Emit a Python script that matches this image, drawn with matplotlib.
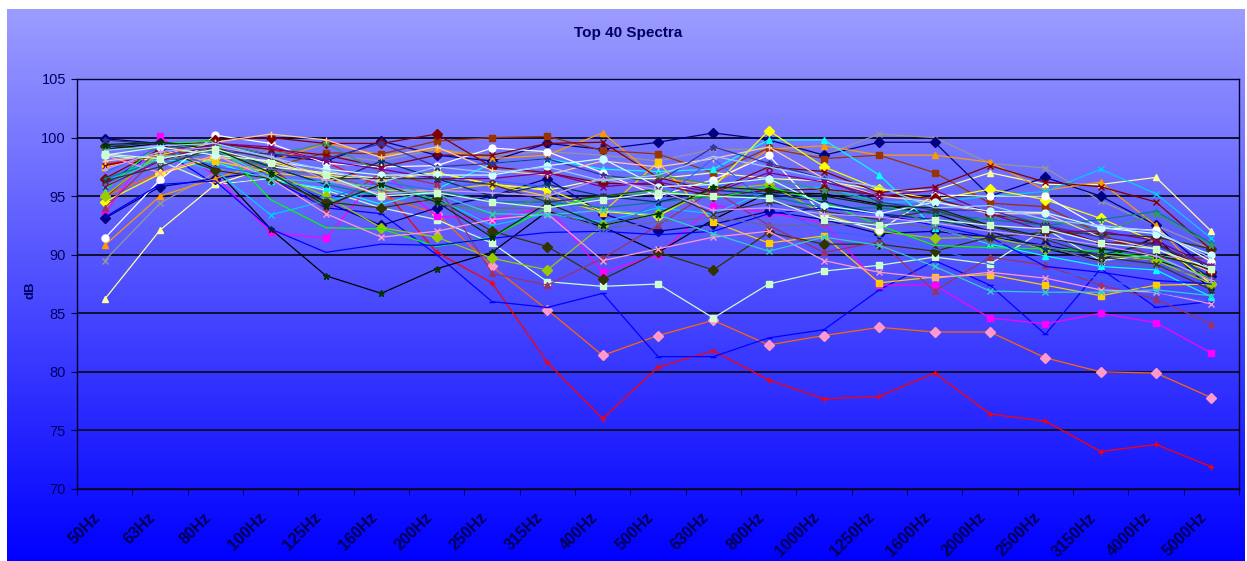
import numpy as np
import matplotlib
matplotlib.use("Agg")
import matplotlib.pyplot as plt
from matplotlib.colors import LinearSegmentedColormap

plt.rcParams['font.family'] = ['Liberation Sans', 'DejaVu Sans']

bands = ["50Hz", "63Hz", "80Hz", "100Hz", "125Hz", "160Hz", "200Hz", "250Hz",
         "315Hz", "400Hz", "500Hz", "630Hz", "800Hz", "1000Hz", "1250Hz",
         "1600Hz", "2000Hz", "2500Hz", "3150Hz", "4000Hz", "5000Hz"]

# spectra (dB per third-octave band)
s01 = [97.7, 98.5, 99.5, 99.0, 97.9, 95.8, 90.2, 87.6, 80.8, 76.0, 80.4, 81.8, 79.3, 77.7, 77.9, 79.9, 76.4, 75.8, 73.2, 73.8, 71.9]
s02 = [95.0, 97.0, 98.5, 98.0, 96.5, 95.0, 93.5, 89.0, 85.3, 81.4, 83.1, 84.4, 82.3, 83.1, 83.8, 83.4, 83.4, 81.2, 80.0, 79.9, 77.8]
s03 = [96.0, 99.0, 96.0, 96.5, 94.0, 93.5, 90.0, 86.0, 85.5, 86.7, 81.3, 81.3, 82.9, 83.6, 87.0, 89.5, 87.4, 83.2, 88.8, 85.5, 86.0]
s04 = [98.5, 98.0, 96.0, 96.5, 95.5, 94.0, 93.0, 91.0, 87.7, 87.3, 87.5, 84.6, 87.5, 88.6, 89.1, 89.8, 89.2, 92.2, 89.5, 90.0, 89.0]
s05 = [93.5, 100.1, 96.7, 91.9, 91.4, 97.1, 93.3, 93.0, 94.1, 88.5, 90.0, 94.2, 93.6, 92.7, 87.4, 87.4, 84.6, 84.1, 85.0, 84.2, 81.6]
s06 = [99.0, 99.5, 97.3, 92.2, 88.2, 86.7, 88.8, 90.2, 93.7, 92.4, 90.2, 93.0, 95.3, 95.2, 94.3, 93.5, 92.0, 90.5, 89.5, 91.5, 87.0]
s07 = [86.2, 92.1, 96.0, 97.5, 97.0, 96.5, 97.0, 96.0, 95.5, 96.5, 96.5, 97.0, 96.5, 96.3, 95.5, 95.5, 97.0, 96.0, 96.0, 96.6, 92.0]
s08 = [89.5, 94.4, 97.0, 99.0, 98.5, 98.0, 99.0, 98.5, 98.8, 98.5, 98.0, 99.0, 99.0, 98.5, 100.3, 100.0, 97.8, 97.4, 94.6, 92.5, 90.5]
s09 = [99.9, 99.5, 99.5, 98.5, 98.0, 99.7, 98.5, 98.0, 99.5, 99.0, 99.6, 100.4, 99.8, 98.5, 99.6, 99.6, 95.0, 96.6, 95.0, 92.5, 88.5]
s10 = [93.1, 95.8, 96.5, 97.2, 94.5, 92.5, 94.0, 95.0, 96.5, 93.5, 92.0, 92.6, 93.7, 93.0, 91.8, 92.0, 91.5, 90.8, 90.0, 89.5, 88.2]
s11 = [90.8, 95.0, 96.5, 98.0, 99.5, 98.5, 99.0, 98.2, 98.5, 100.4, 96.5, 96.0, 99.0, 99.3, 98.5, 98.5, 97.9, 95.5, 96.2, 92.5, 87.5]
s12 = [94.8, 99.0, 99.1, 97.5, 98.7, 98.6, 99.7, 100.0, 100.1, 98.9, 98.6, 97.0, 99.1, 98.2, 98.5, 97.0, 94.4, 94.1, 91.8, 89.7, 89.7]
s13 = [95.8, 98.1, 97.9, 96.3, 95.7, 94.3, 95.6, 97.8, 98.2, 97.3, 97.1, 97.3, 99.8, 99.8, 96.8, 92.3, 90.9, 89.9, 89.0, 88.7, 86.4]
s14 = [96.2, 98.4, 97.2, 93.4, 94.6, 95.5, 94.8, 92.5, 93.5, 92.8, 94.0, 93.5, 95.5, 95.8, 94.5, 94.5, 95.0, 95.4, 97.3, 95.2, 91.4]
s15 = [94.5, 96.9, 98.3, 98.0, 96.8, 96.3, 97.0, 96.0, 95.6, 93.7, 93.3, 95.8, 100.6, 97.5, 95.6, 94.7, 95.6, 94.7, 93.1, 91.1, 87.5]
s16 = [97.5, 98.5, 98.0, 97.0, 96.5, 95.5, 95.5, 96.0, 95.0, 93.6, 97.9, 92.8, 91.0, 91.6, 87.6, 88.1, 88.3, 87.4, 86.5, 87.4, 87.5]
s17 = [95.0, 98.7, 99.0, 97.0, 95.0, 92.3, 91.5, 89.7, 88.7, 92.5, 93.5, 95.5, 96.0, 93.5, 92.0, 91.4, 91.5, 90.5, 90.0, 89.5, 87.5]
s18 = [99.3, 99.0, 97.2, 96.5, 94.5, 94.0, 94.8, 92.0, 90.7, 87.9, 90.2, 88.7, 91.9, 90.9, 90.9, 90.3, 91.5, 91.9, 91.8, 91.5, 90.5]
s19 = [94.0, 98.5, 99.0, 97.5, 93.8, 97.0, 96.0, 88.4, 87.4, 89.7, 92.5, 95.5, 92.5, 90.2, 91.1, 86.9, 89.8, 89.1, 87.4, 86.2, 84.1]
s20 = [91.4, 96.4, 100.2, 99.5, 97.8, 97.5, 97.6, 99.1, 98.8, 97.0, 95.0, 96.4, 98.5, 93.3, 92.1, 95.1, 95.0, 95.0, 92.3, 92.1, 89.4]
s21 = [97.6, 98.5, 99.5, 99.0, 98.5, 97.5, 98.5, 98.5, 99.5, 99.6, 96.6, 95.4, 97.5, 97.1, 95.3, 95.8, 97.6, 96.2, 95.8, 94.5, 90.4]
s22 = [96.5, 99.0, 99.8, 100.0, 99.5, 99.5, 100.3, 97.5, 97.0, 96.1, 96.0, 95.0, 95.5, 95.6, 95.1, 94.8, 93.5, 92.5, 91.0, 91.0, 88.5]
s23 = [95.5, 99.5, 99.7, 94.7, 92.3, 92.2, 90.7, 91.5, 94.0, 95.0, 95.5, 94.8, 95.8, 94.5, 92.5, 90.8, 90.6, 90.5, 90.3, 89.7, 88.0]
s24 = [96.5, 98.0, 98.7, 97.5, 96.0, 95.0, 95.5, 94.5, 94.5, 94.0, 94.5, 95.0, 95.0, 94.0, 94.0, 93.5, 93.0, 92.5, 93.0, 93.7, 91.0]
s25 = [93.2, 96.0, 96.3, 92.2, 90.2, 90.9, 90.8, 91.4, 91.9, 92.0, 91.7, 92.0, 93.5, 94.0, 93.5, 92.5, 91.5, 89.0, 88.5, 87.8, 87.5]
s26 = [98.5, 97.0, 98.5, 96.5, 93.5, 91.5, 92.0, 93.0, 93.5, 89.5, 90.5, 91.5, 92.0, 89.5, 88.5, 88.0, 88.5, 88.0, 87.0, 86.8, 85.8]
s27 = [99.2, 99.6, 99.2, 97.5, 96.0, 98.0, 96.5, 95.0, 96.0, 95.0, 94.5, 95.5, 95.2, 94.5, 93.5, 93.0, 92.0, 90.5, 90.0, 91.0, 88.0]
s28 = [99.0, 99.0, 99.5, 98.5, 99.5, 97.0, 94.5, 93.5, 95.0, 96.5, 96.8, 96.0, 96.5, 95.5, 94.5, 92.5, 93.2, 93.0, 92.0, 93.5, 90.8]
s29 = [98.0, 98.5, 99.6, 100.3, 99.8, 98.3, 99.2, 97.2, 96.8, 98.0, 97.5, 98.2, 99.2, 96.5, 95.0, 94.5, 93.5, 93.5, 91.5, 90.5, 88.5]
s30 = [99.8, 99.4, 98.8, 98.6, 98.2, 99.5, 97.5, 97.8, 98.2, 96.8, 96.2, 99.2, 97.8, 96.5, 94.5, 93.8, 93.8, 92.5, 91.5, 90.8, 89.0]
s31 = [96.0, 98.0, 98.8, 97.3, 96.8, 95.5, 94.3, 94.0, 93.9, 92.2, 92.8, 93.2, 92.5, 92.5, 92.8, 92.3, 91.0, 90.8, 89.3, 89.0, 88.0]
s32 = [97.0, 99.2, 97.5, 96.8, 94.8, 96.2, 95.5, 96.3, 95.8, 91.8, 94.5, 98.2, 94.3, 92.0, 91.5, 90.5, 89.2, 88.5, 88.0, 86.8, 86.0]
s33 = [95.8, 98.3, 99.0, 96.5, 96.2, 95.8, 95.2, 93.5, 93.4, 93.8, 93.4, 91.8, 90.3, 91.5, 90.8, 89.0, 86.9, 86.8, 86.8, 87.0, 86.5]
s34 = [95.8, 98.0, 99.5, 99.2, 98.0, 97.3, 96.5, 96.5, 97.0, 95.8, 96.2, 95.3, 97.0, 96.2, 95.0, 95.5, 93.5, 92.0, 92.0, 91.2, 89.0]
s35 = [98.5, 99.2, 98.5, 98.0, 97.3, 96.8, 96.8, 96.8, 97.6, 98.2, 95.8, 96.0, 96.5, 94.2, 93.5, 94.5, 93.7, 93.6, 92.3, 91.8, 90.0]
s36 = [99.4, 99.6, 99.0, 97.0, 94.2, 96.0, 94.5, 91.5, 94.4, 92.5, 93.5, 95.8, 95.5, 95.0, 94.2, 94.0, 92.5, 91.5, 90.5, 90.0, 88.8]
s37 = [96.3, 97.5, 99.2, 98.2, 96.5, 96.5, 96.5, 96.0, 94.5, 95.0, 95.6, 93.5, 94.5, 93.7, 93.0, 93.8, 92.4, 91.3, 89.8, 89.2, 87.0]
s38 = [97.3, 98.8, 99.2, 98.4, 96.4, 95.2, 95.5, 95.3, 95.0, 96.5, 95.5, 93.8, 94.0, 93.5, 93.2, 92.7, 92.0, 91.5, 90.8, 89.9, 87.8]
s39 = [98.9, 99.3, 99.5, 98.3, 97.2, 96.2, 97.5, 97.0, 97.5, 96.3, 96.8, 98.4, 97.5, 96.5, 95.8, 94.0, 94.2, 93.0, 92.5, 92.0, 89.7]
s40 = [98.6, 98.2, 99.0, 97.8, 96.8, 95.0, 95.3, 94.5, 94.0, 94.7, 95.3, 95.0, 94.8, 93.0, 92.5, 93.0, 92.5, 92.2, 91.0, 90.5, 88.8]

series = [s01, s02, s03, s04, s05, s06, s07, s08, s09, s10,
          s11, s12, s13, s14, s15, s16, s17, s18, s19, s20,
          s21, s22, s23, s24, s25, s26, s27, s28, s29, s30,
          s31, s32, s33, s34, s35, s36, s37, s38, s39, s40]

# line colour, marker colour, marker
styles = [
    ("#FF0000", "#FF0000", "+"), ("#FF6600", "#FF99CC", "D"), ("#0000FF", "#0000FF", "_"),
    ("#CCFFCC", "#CCFFCC", "s"), ("#FF00FF", "#FF00FF", "s"), ("#000000", "#003300", "*"),
    ("#FFFF99", "#FFFF99", "^"), ("#969696", "#969696", "x"), ("#000080", "#000080", "D"),
    ("#000080", "#000080", "D"), ("#FF9900", "#FF9900", "^"), ("#993300", "#993300", "s"),
    ("#00FFFF", "#00FFFF", "^"), ("#00CCFF", "#00CCFF", "x"), ("#FFFF00", "#FFFF00", "D"),
    ("#FFCC00", "#FFCC00", "s"), ("#99CC00", "#99CC00", "D"), ("#333300", "#333300", "D"),
    ("#993366", "#993366", "^"), ("#FFFFFF", "#FFFFFF", "o"), ("#800000", "#800000", "x"),
    ("#800000", "#800000", "D"), ("#00FF00", "#00FF00", ""), ("#008080", "#008080", "+"),
    ("#0000FF", "#0000FF", ""), ("#FF99CC", "#FF99CC", "x"), ("#003366", "#003366", "*"),
    ("#339966", "#339966", "*"), ("#FFCC99", "#FFCC99", "+"), ("#333399", "#333399", "*"),
    ("#666699", "#666699", "+"), ("#3366FF", "#3366FF", ""), ("#33CCCC", "#33CCCC", "x"),
    ("#800080", "#800080", "x"), ("#CCFFFF", "#CCFFFF", "o"), ("#003300", "#003300", "*"),
    ("#333333", "#333333", "x"), ("#CC99FF", "#CC99FF", "+"), ("#99CCFF", "#99CCFF", ""),
    ("#CCFFCC", "#CCFFCC", "s"),
]

W, H = 1247, 561
fig = plt.figure(figsize=(W / 100, H / 100), dpi=100)
fig.patch.set_facecolor("white")

# chart area gradient
cmap = LinearSegmentedColormap.from_list("bg", ["#0000FF", "#9C9CFF"])
bg = fig.add_axes([7 / W, 0, 1238 / W, 552 / H], zorder=0)
bg.imshow(np.linspace(0, 1, 256).reshape(-1, 1), aspect="auto", cmap=cmap,
          origin="lower", extent=[0, 1, 0, 1])
bg.set_axis_off()

ax = fig.add_axes([77 / W, (H - 489) / H, (1239 - 77) / W, (489 - 79) / H], zorder=1)
ax.patch.set_alpha(0)

x = np.arange(len(bands))
for vals, (lc, mc, mk) in zip(series, styles):
    ax.plot(x, vals, color=lc, lw=0.9, marker=mk if mk else None, markersize=5,
            markerfacecolor=mc, markeredgecolor=mc, markeredgewidth=1)

ax.set_xlim(-0.5, len(bands) - 0.5)
ax.set_ylim(70, 105)
ax.set_yticks(np.arange(70, 106, 5))
ax.yaxis.grid(True, color="#101030", lw=1.4)
ax.set_axisbelow(True)

# rotated labels end slightly left of the category centre, like Excel
ax.set_xticks(x - 0.22)
ax.set_xticklabels(bands, rotation=45, ha="right", va="top", rotation_mode="anchor",
                   fontweight="bold", fontsize=11.5, color="#000050")
ax.set_xticks(np.arange(-0.5, len(bands), 1), minor=True)
ax.tick_params(axis="x", which="major", length=0, pad=15)
ax.tick_params(axis="x", which="minor", length=4, color="#000030")
ax.tick_params(axis="y", length=4, color="#000030", labelsize=10.5, labelcolor="#000060", pad=4)

for sp in ax.spines.values():
    sp.set_color("#000030")
    sp.set_linewidth(1.0)

fig.text(628 / W, 1 - 33 / H, "Top 40 Spectra", ha="center", va="center",
         fontsize=11, fontweight="bold", color="#000060")
fig.text(31 / W, 1 - 290 / H, "dB", ha="center", va="center", rotation=90,
         fontsize=9.5, fontweight="bold", color="#000060")

fig.savefig("out.png", dpi=100)
